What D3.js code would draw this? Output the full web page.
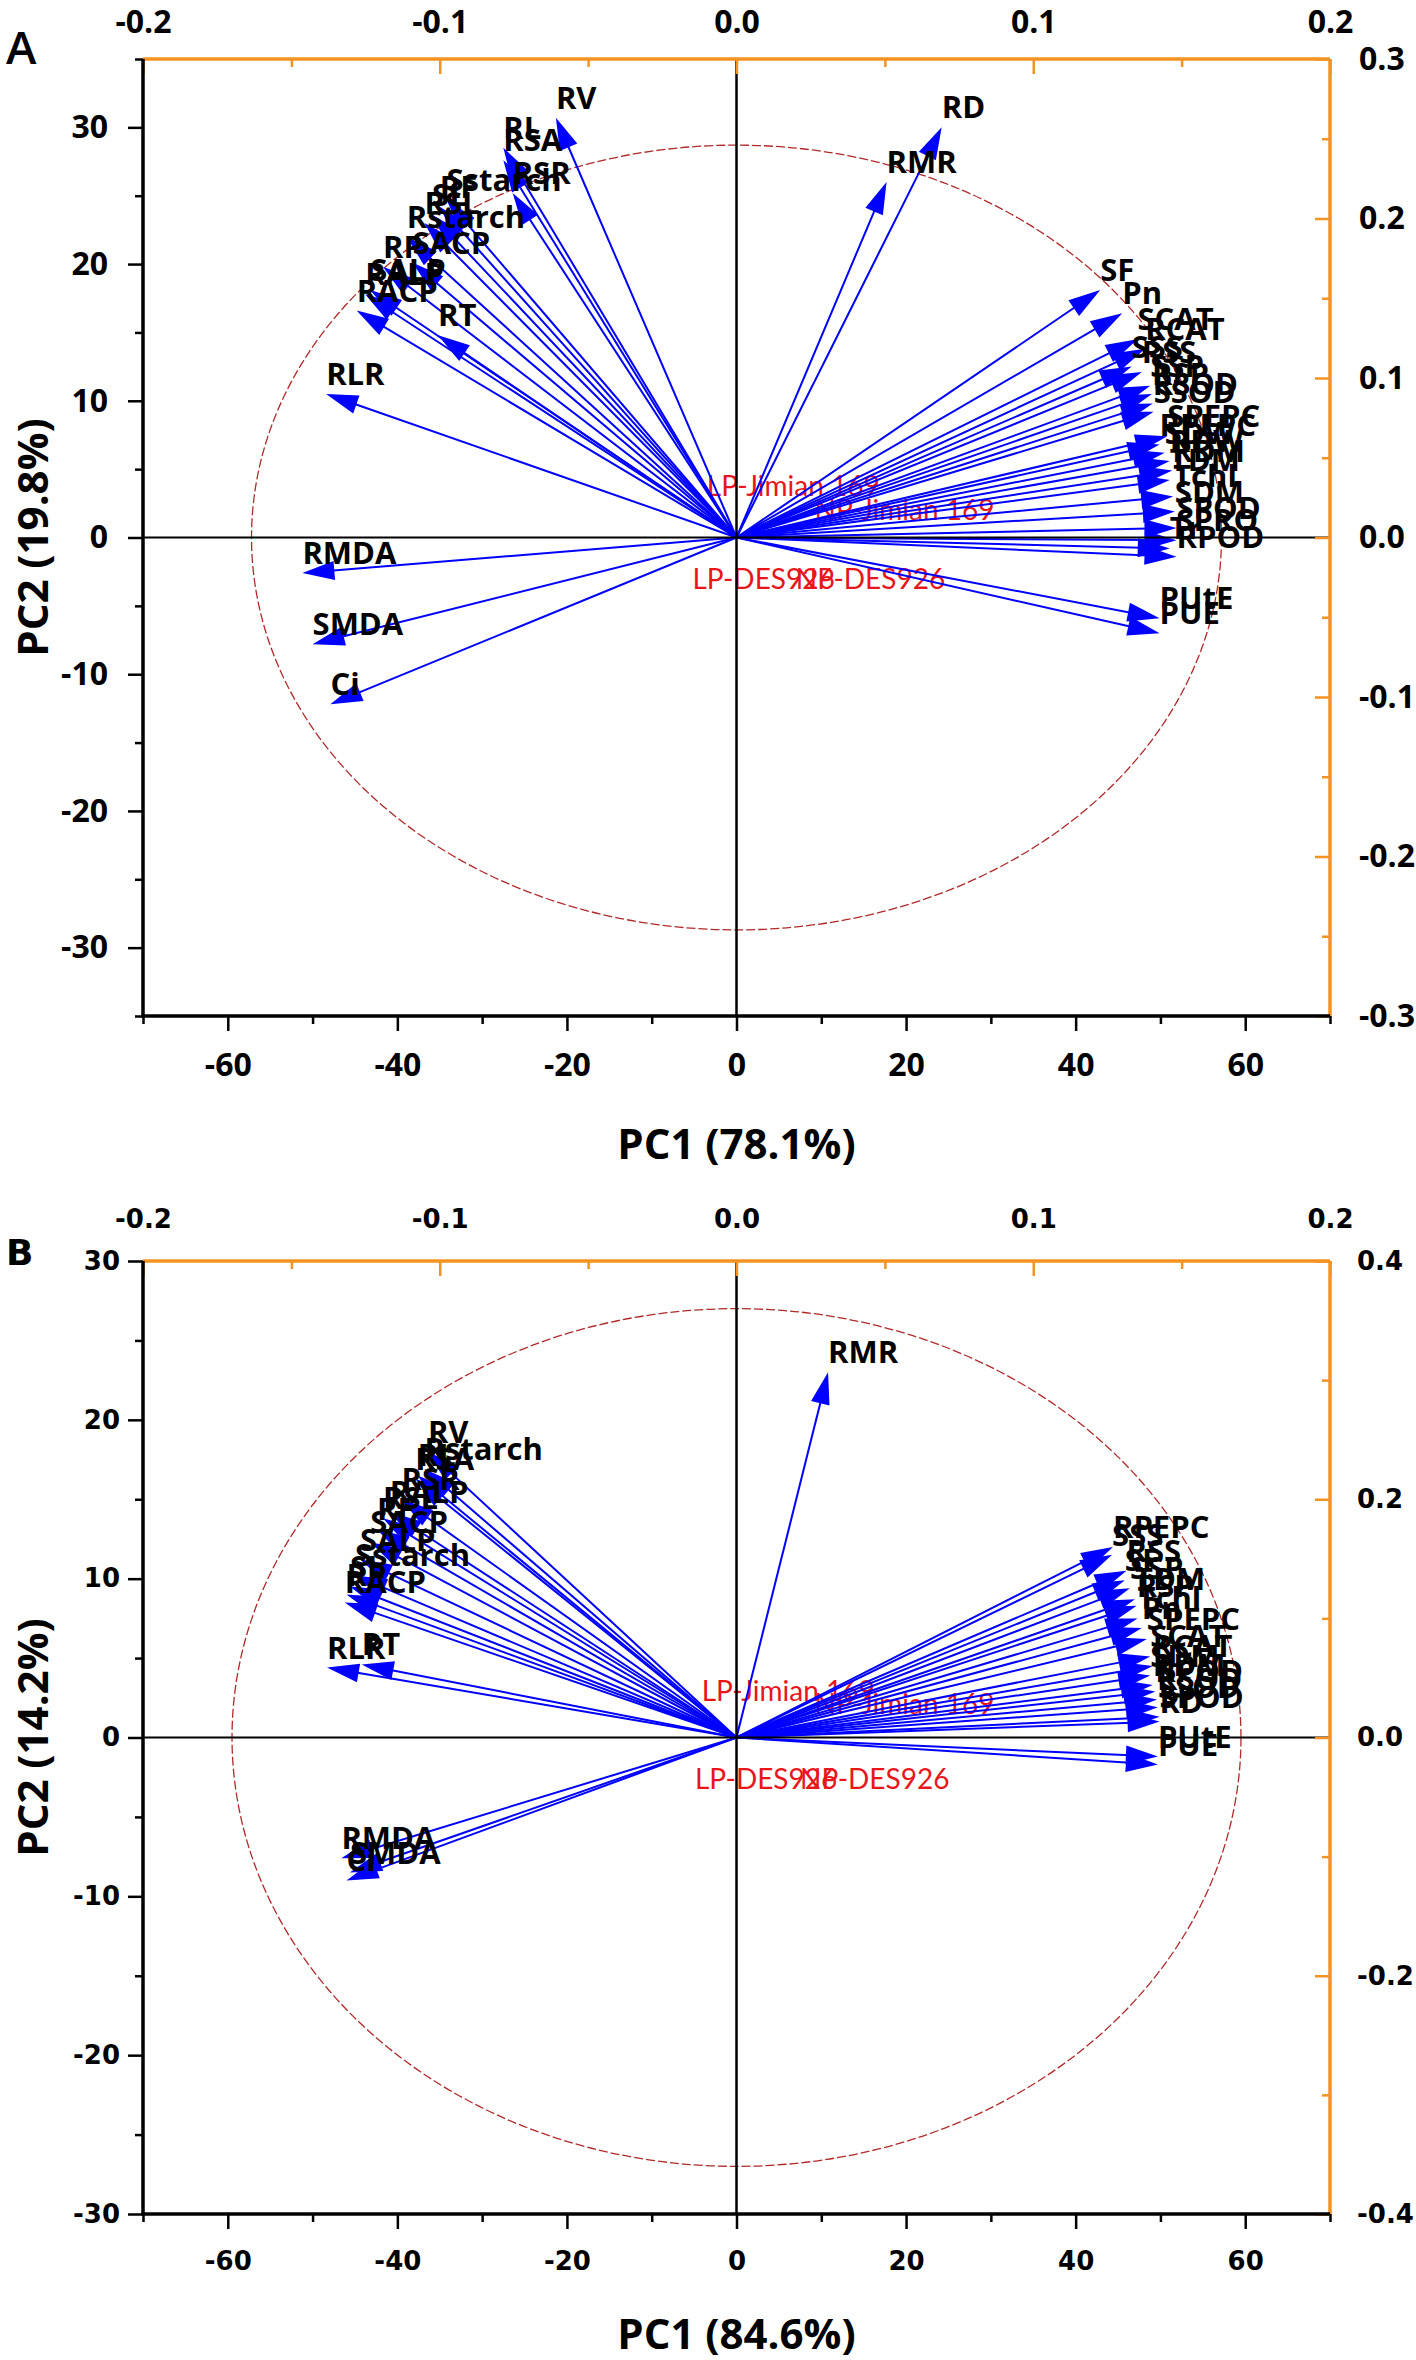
<!DOCTYPE html>
<html><head><meta charset="utf-8">
<script src="https://cdn.jsdelivr.net/npm/d3@7"></script>
<style>body{margin:0;background:#fff} svg{display:block}</style>
</head><body>
<svg id="chart" width="1416" height="2360"></svg>
<script>
// ---------------- DATA ----------------
const xMajorTicks = [-60,-40,-20,0,20,40,60];
const xMinorTicks = [-70,-50,-30,-10,10,30,50,70];
const topMajorTicks = [-0.2,-0.1,0,0.1,0.2];
const topMinorTicks = [-0.15,-0.05,0.05,0.15];
const yMajorTicksA = [-30,-20,-10,0,10,20,30];
const yMinorTicksA = [-35,-25,-15,-5,5,15,25,35];
const rightMajorTicksA = [-0.3,-0.2,-0.1,0,0.1,0.2,0.3];
const rightMinorTicksA = [-0.25,-0.15,-0.05,0.05,0.15,0.25];
const yMajorTicksB = [-30,-20,-10,0,10,20,30];
const yMinorTicksB = [-25,-15,-5,5,15,25];
const rightMajorTicksB = [-0.4,-0.2,0,0.2,0.4];
const rightMinorTicksB = [-0.3,-0.1,0.1,0.3];

// Panel A loadings
const varNamesA = ["RV","RL","RSA","RSR","Sstarch","RF","SL","RSL","Rstarch","SACP","RP","SALP","RALP","RACP","RT","RLR","RMDA","SMDA","Ci","RMR","RD",
  "SF","Pn","SCAT","RCAT","SSS","RSS","SSP","RSP","RSOD","SSOD","SPEPC","RPEPC","SDW","RDW","RDM","TDM","Tchl","SDM","SPOD","SPRO","Tr","RPOD","PUtE","PUE"];
const pc1A = [-21.3,-27.5,-27.5,-26.4,-34.2,-35.0,-35.9,-36.8,-38.9,-38.2,-41.7,-43.2,-43.8,-44.8,-35.2,-48.4,-51.2,-50.0,-47.9,17.7,24.2,
  42.9,45.5,47.3,48.2,46.6,47.8,48.8,49.0,49.1,49.2,50.8,49.9,50.5,51.1,51.4,51.1,51.5,51.7,51.9,51.9,51.1,51.9,49.9,49.9];
const pc2A = [30.7,28.5,27.6,25.2,24.7,24.2,23.6,23.0,22.0,20.1,19.8,18.1,17.8,16.6,14.8,10.5,-2.6,-7.8,-12.2,26.0,30.0,
  18.1,16.4,14.5,13.8,12.5,12.1,11.1,10.5,9.8,9.2,7.4,6.8,6.2,5.6,4.9,4.2,3.0,1.9,0.7,-0.2,-0.8,-1.4,-5.9,-7.0];

// Panel B loadings
const varNamesB = ["RV","Rstarch","RL","RSA","RSR","RALP","RSL","RF","SACP","SALP","Sstarch","SL","RP","RACP","RLR","RT","RMDA","SMDA","Ci","RMR",
  "RPEPC","SSS","RSS","SF","SSP","TDM","RSP","Tchl","Pn","SPEPC","SCAT","RCAT","SDM","RDM","RPOD","RSOD","SSOD","SPOD","RD","PUtE","PUE"];
const pc1B = [-36.4,-36.8,-37.6,-37.9,-39.5,-40.9,-41.7,-42.4,-43.2,-44.4,-45.0,-45.6,-46.0,-46.2,-48.3,-44.2,-46.6,-45.6,-46.0,10.8,
  44.4,44.3,46.0,45.8,46.4,47.0,47.2,47.3,47.8,48.4,48.8,49.1,48.8,49.1,49.4,49.6,49.7,49.9,49.9,49.7,49.7];
const pc2B = [18.0,16.9,16.5,16.3,15.0,14.2,13.8,13.1,12.3,11.2,10.2,9.5,9.0,8.5,4.4,4.6,-7.6,-8.5,-9.0,23.0,
  12.0,11.5,10.5,9.9,9.4,8.7,8.3,7.5,6.9,6.2,5.1,4.5,3.9,3.3,2.9,2.4,1.9,1.3,1.0,-1.2,-1.7];

// Sample scores (label anchors)
const sampleNames = ["LP-Jimian 169","NP-Jimian 169","LP-DES926","NP-DES926"];
const samplePC1A = [-3.5, 9.2, -5.2, 7.0];
const samplePC2A = [2.4, 0.6, -4.4, -4.4];
const samplePC1B = [-4.1, 9.2, -4.9, 7.5];
const samplePC2B = [1.7, 0.9, -3.8, -3.8];

// Confidence ellipse radii (PC1, PC2)
const ellipseA = [57.2, 28.7];
const ellipseB = [59.5, 27.0];

const xTitles = ["PC1 (78.1%)","PC1 (84.6%)"];
const yTitles = ["PC2 (19.8%)","PC2 (14.2%)"];

// ---------------- DRAW ----------------
const svg = d3.select('#chart');
const ORANGE = '#F39322';
const BLUE = '#0000FF';
const LABEL_FONT = "'Open Sans', sans-serif";

const panels = [
  {key:'A', left:143, right:1330, top:59, bottom:1016, yDom:[-35,35], y2Dom:[-0.3,0.3],
   yMajor:yMajorTicksA, yMinor:yMinorTicksA, rMajor:rightMajorTicksA, rMinor:rightMinorTicksA,
   names:varNamesA, pc1:pc1A, pc2:pc2A, sx:samplePC1A, sy:samplePC2A, ell:ellipseA,
   xTitle:xTitles[0], yTitle:yTitles[0], xTitleY:1159, yTitleX:48,
   tickFont:"'Open Sans', sans-serif", tickSize:32, tickWeight:700,
   padL:20, padB:22, padT:26, padR:29, tag:'A', tagFont:"'Open Sans', sans-serif", tagWeight:600, tagSize:46, tagY:64},
  {key:'B', left:143, right:1330, top:1261, bottom:2214, yDom:[-30,30], y2Dom:[-0.4,0.4],
   yMajor:yMajorTicksB, yMinor:yMinorTicksB, rMajor:rightMajorTicksB, rMinor:rightMinorTicksB,
   names:varNamesB, pc1:pc1B, pc2:pc2B, sx:samplePC1B, sy:samplePC2B, ell:ellipseB,
   xTitle:xTitles[1], yTitle:yTitles[1], xTitleY:2349, yTitleX:48,
   tickFont:"'DejaVu Sans', sans-serif", tickSize:26, tickWeight:700,
   padL:8, padB:23, padT:33, padR:27, tag:'B', tagFont:"'DejaVu Sans', sans-serif", tagWeight:700, tagSize:36, tagY:1265}
];

function styleAxis(sel, color, cfg) {
  sel.select('.domain').remove();
  sel.selectAll('.tick line').attr('stroke', color).attr('stroke-width', 2.5);
  sel.selectAll('.tick text').attr('fill','#000')
    .style('font-family', cfg.tickFont).style('font-size', cfg.tickSize+'px').style('font-weight', cfg.tickWeight);
}

panels.forEach(cfg => {
  const g = svg.append('g');
  const x = d3.scaleLinear().domain([-70,70]).range([cfg.left,cfg.right]);
  const y = d3.scaleLinear().domain(cfg.yDom).range([cfg.bottom,cfg.top]);
  const x2 = d3.scaleLinear().domain([-0.2,0.2]).range([cfg.left,cfg.right]);
  const y2 = d3.scaleLinear().domain(cfg.y2Dom).range([cfg.bottom,cfg.top]);

  // ellipse
  g.append('ellipse').attr('cx',x(0)).attr('cy',y(0))
    .attr('rx',x(cfg.ell[0])-x(0)).attr('ry',y(0)-y(cfg.ell[1]))
    .attr('fill','none').attr('stroke','#B02A2A').attr('stroke-width',1.3).attr('stroke-dasharray','9,3');

  // sample labels
  g.selectAll('text.sample').data(sampleNames).enter().append('text')
    .attr('x',(d,i)=>x(cfg.sx[i])).attr('y',(d,i)=>y(cfg.sy[i])-9)
    .attr('fill','#E8161B').style('font-family',"Lato, sans-serif").style('font-size','28px')
    .text(d=>d);

  // arrows
  const ox = x(0), oy = y(0);
  const HL = 32, HW = 9.5;
  cfg.names.forEach((name,i) => {
    const tx = x(cfg.pc1[i]), ty = y(cfg.pc2[i]);
    const a = Math.atan2(ty-oy, tx-ox);
    const c = Math.cos(a), s = Math.sin(a);
    const bx = tx - HL*c, by = ty - HL*s;
    g.append('line').attr('x1',ox).attr('y1',oy).attr('x2',bx+4*c).attr('y2',by+4*s)
      .attr('stroke',BLUE).attr('stroke-width',2);
    g.append('path').attr('d',`M${tx},${ty}L${bx - HW*s},${by + HW*c}L${bx + HW*s},${by - HW*c}Z`)
      .attr('fill',BLUE);
  });

  // zero lines
  g.append('line').attr('x1',cfg.left).attr('x2',cfg.right).attr('y1',y(0)).attr('y2',y(0))
    .attr('stroke','#000').attr('stroke-width',2);
  g.append('line').attr('x1',x(0)).attr('x2',x(0)).attr('y1',cfg.top).attr('y2',cfg.bottom)
    .attr('stroke','#000').attr('stroke-width',2.5);

  // variable labels
  cfg.names.forEach((name,i) => {
    g.append('text').attr('x',x(cfg.pc1[i])).attr('y',y(cfg.pc2[i])-9)
      .style('font-family',LABEL_FONT).style('font-size','31px').style('font-weight',700)
      .attr('fill','#000').text(name);
  });

  // axes
  const fmtInt = d => String(d);
  const fmtDec = d => (Math.abs(d)<1e-9?0:d).toFixed(1);

  const gL = g.append('g').attr('transform',`translate(${cfg.left},0)`);
  gL.call(d3.axisLeft(y).tickValues(cfg.yMajor).tickSize(15).tickPadding(cfg.padL).tickFormat(fmtInt));
  styleAxis(gL,'#000',cfg);
  const gL2 = g.append('g').attr('transform',`translate(${cfg.left},0)`);
  gL2.call(d3.axisLeft(y).tickValues(cfg.yMinor).tickSize(8).tickFormat(''));
  styleAxis(gL2,'#000',cfg);

  const gB = g.append('g').attr('transform',`translate(0,${cfg.bottom})`);
  gB.call(d3.axisBottom(x).tickValues(xMajorTicks).tickSize(15).tickPadding(cfg.padB).tickFormat(fmtInt));
  styleAxis(gB,'#000',cfg);
  const gB2 = g.append('g').attr('transform',`translate(0,${cfg.bottom})`);
  gB2.call(d3.axisBottom(x).tickValues(xMinorTicks).tickSize(8).tickFormat(''));
  styleAxis(gB2,'#000',cfg);

  const gT = g.append('g').attr('transform',`translate(0,${cfg.top})`);
  gT.call(d3.axisTop(x2).tickValues(topMajorTicks).tickSizeInner(-15).tickSizeOuter(0).tickPadding(cfg.padT).tickFormat(fmtDec));
  styleAxis(gT,ORANGE,cfg);
  const gT2 = g.append('g').attr('transform',`translate(0,${cfg.top})`);
  gT2.call(d3.axisTop(x2).tickValues(topMinorTicks).tickSizeInner(-8).tickSizeOuter(0).tickFormat(''));
  styleAxis(gT2,ORANGE,cfg);

  const gR = g.append('g').attr('transform',`translate(${cfg.right},0)`);
  gR.call(d3.axisRight(y2).tickValues(cfg.rMajor).tickSizeInner(-15).tickSizeOuter(0).tickPadding(cfg.padR).tickFormat(fmtDec));
  styleAxis(gR,ORANGE,cfg);
  const gR2 = g.append('g').attr('transform',`translate(${cfg.right},0)`);
  gR2.call(d3.axisRight(y2).tickValues(cfg.rMinor).tickSizeInner(-8).tickSizeOuter(0).tickFormat(''));
  styleAxis(gR2,ORANGE,cfg);

  // frame lines
  g.append('line').attr('x1',cfg.left).attr('x2',cfg.right).attr('y1',cfg.top).attr('y2',cfg.top)
    .attr('stroke',ORANGE).attr('stroke-width',3.5);
  g.append('line').attr('x1',cfg.right).attr('x2',cfg.right).attr('y1',cfg.top).attr('y2',cfg.bottom)
    .attr('stroke',ORANGE).attr('stroke-width',3.5);
  g.append('line').attr('x1',cfg.left).attr('x2',cfg.left).attr('y1',cfg.top).attr('y2',cfg.bottom)
    .attr('stroke','#000').attr('stroke-width',3.5);
  g.append('line').attr('x1',cfg.left-1.75).attr('x2',cfg.right).attr('y1',cfg.bottom).attr('y2',cfg.bottom)
    .attr('stroke','#000').attr('stroke-width',3.5);

  // titles
  g.append('text').attr('x',(cfg.left+cfg.right)/2).attr('y',cfg.xTitleY).attr('text-anchor','middle')
    .style('font-family',LABEL_FONT).style('font-size','42px').style('font-weight',700).text(cfg.xTitle);
  g.append('text').attr('transform',`translate(${cfg.yTitleX},${(cfg.top+cfg.bottom)/2}) rotate(-90)`)
    .attr('text-anchor','middle')
    .style('font-family',LABEL_FONT).style('font-size','42px').style('font-weight',700).text(cfg.yTitle);

  // panel tag
  g.append('text').attr('x',6).attr('y',cfg.tagY)
    .style('font-family',cfg.tagFont).style('font-size',cfg.tagSize+'px').style('font-weight',cfg.tagWeight).text(cfg.tag);
});
</script>
</body></html>
